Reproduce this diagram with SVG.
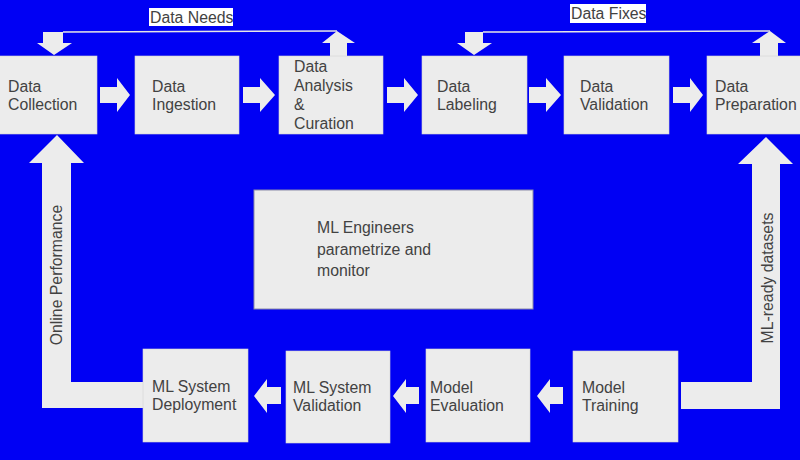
<svg xmlns="http://www.w3.org/2000/svg" width="800" height="460" viewBox="0 0 800 460">
<style>
.box{fill:#ececec;stroke:#d4d4d4;stroke-width:0.6}
.t{font-family:"Liberation Sans",Arial,sans-serif;font-size:15.8px;fill:#424242}
.arr{fill:#ececec}
.ln{stroke:#e6e6e6;stroke-width:1.5;fill:none}
.lbl{fill:#ffffff}
</style>
<rect width="800" height="460" fill="#0000f4"/>
<g id="connectors">
  <polygon class="arr" points="100,87 117,87 117,78 130,95 117,112 117,103 100,103"/>
  <polygon class="arr" points="243,87 260,87 260,78 275,95 260,112 260,103 243,103"/>
  <polygon class="arr" points="387,87 404,87 404,78 418,95 404,112 404,103 387,103"/>
  <polygon class="arr" points="529,87 546,87 546,78 561,95 546,112 546,103 529,103"/>
  <polygon class="arr" points="673,87 690,87 690,78 703,95 690,112 690,103 673,103"/>
  <polygon class="arr" points="281,387 267,387 267,379 254,396 267,413 267,404 281,404"/>
  <polygon class="arr" points="419,387 406,387 406,379 393,396 406,413 406,404 419,404"/>
  <polygon class="arr" points="563,387 550,387 550,379 537,396 550,413 550,404 563,404"/>
  <polygon class="arr" points="57,135 84,163 71,163 71,382 143,382 143,408 42,408 42,163 29,163"/>
  <polygon class="arr" points="766,137 793,164 780,164 780,409 681,409 681,382 752,382 752,164 738,164"/>
  <polygon class="arr" points="43,32 63,32 63,43 72,43 54,55 37,43 43,43"/>
  <path class="ln" d="M63,32 L337,31"/>
  <polygon class="arr" points="337,31 355,43 347,43 347,56 330,56 330,43 322,43"/>
  <polygon class="arr" points="465,32 483,32 483,43 492,43 474,55 457,43 465,43"/>
  <path class="ln" d="M483,32 L770,31"/>
  <polygon class="arr" points="770,31 786,43 778,43 778,56 760,56 760,43 752,43"/>
  <g id="label-data-needs">
    <rect class="lbl" x="149" y="8" width="84" height="18"/>
    <text class="t" x="150" y="23">Data Needs</text>
  </g>
  <g id="label-data-fixes">
    <rect class="lbl" x="570" y="4" width="76" height="19"/>
    <text class="t" x="571" y="19">Data Fixes</text>
  </g>
  <text class="t" text-anchor="middle" transform="translate(61.5,275) rotate(-90)">Online Performance</text>
  <text class="t" text-anchor="middle" transform="translate(773,278) rotate(-90)">ML-ready datasets</text>
</g>
<g id="data-collection">
  <rect class="box" x="-1" y="56" width="98" height="78"/>
  <text class="t" x="8" y="92">Data</text><text class="t" x="8" y="110">Collection</text>
</g>
<g id="data-ingestion">
  <rect class="box" x="135" y="56" width="104" height="78"/>
  <text class="t" x="152" y="92">Data</text><text class="t" x="152" y="110">Ingestion</text>
</g>
<g id="data-analysis">
  <rect class="box" x="279" y="56" width="104" height="78"/>
  <text class="t" x="294" y="72">Data</text><text class="t" x="294" y="91">Analysis</text>
  <text class="t" x="294" y="110">&amp;</text><text class="t" x="294" y="129">Curation</text>
</g>
<g id="data-labeling">
  <rect class="box" x="422" y="56" width="105" height="78"/>
  <text class="t" x="437" y="92">Data</text><text class="t" x="437" y="110">Labeling</text>
</g>
<g id="data-validation">
  <rect class="box" x="564" y="56" width="105" height="78"/>
  <text class="t" x="580" y="92">Data</text><text class="t" x="580" y="110">Validation</text>
</g>
<g id="data-preparation">
  <rect class="box" x="707" y="56" width="94" height="78"/>
  <text class="t" x="715" y="92">Data</text><text class="t" x="715" y="110">Preparation</text>
</g>
<g id="ml-engineers">
  <rect class="box" x="254" y="190" width="279" height="119" style="stroke:#8a8aa8;stroke-width:1"/>
  <text class="t" x="317" y="233">ML Engineers</text>
  <text class="t" x="317" y="255">parametrize and</text>
  <text class="t" x="317" y="276">monitor</text>
</g>
<g id="ml-system-deployment">
  <rect class="box" x="143" y="349" width="105" height="93"/>
  <text class="t" x="152" y="392">ML System</text><text class="t" x="152" y="410">Deployment</text>
</g>
<g id="ml-system-validation">
  <rect class="box" x="286" y="351" width="104" height="92"/>
  <text class="t" x="293" y="393">ML System</text><text class="t" x="293" y="411">Validation</text>
</g>
<g id="model-evaluation">
  <rect class="box" x="426" y="349" width="104" height="93"/>
  <text class="t" x="430" y="393">Model</text><text class="t" x="430" y="411">Evaluation</text>
</g>
<g id="model-training">
  <rect class="box" x="573" y="351" width="105" height="91"/>
  <text class="t" x="582" y="393">Model</text><text class="t" x="582" y="411">Training</text>
</g>
</svg>
